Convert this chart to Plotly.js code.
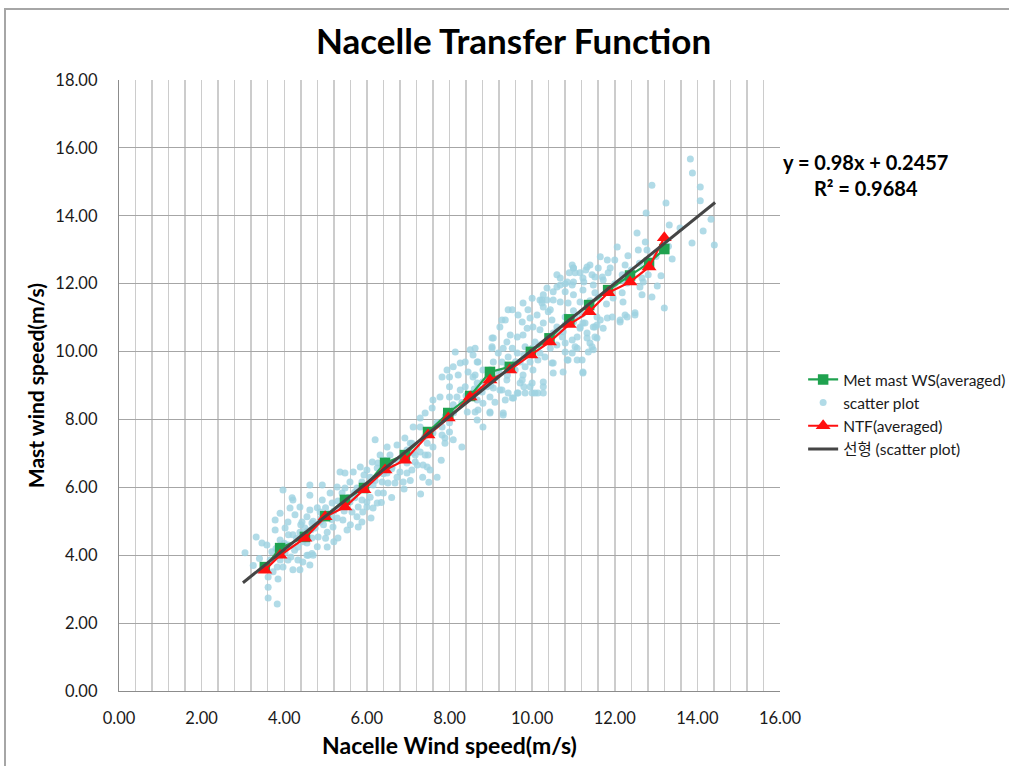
<!DOCTYPE html>
<html>
<head>
<meta charset="utf-8">
<script src="https://cdn.plot.ly/plotly-3.0.1.min.js"></script>
<style>
html,body{margin:0;padding:0;background:#fff;overflow:hidden;}
#chart{width:1009px;height:766px;position:absolute;left:0;top:0;}
#frame{position:absolute;left:4px;top:8px;width:1100px;height:900px;border-top:2px solid #a6a6a6;border-left:2px solid #a6a6a6;pointer-events:none;}
</style>
</head>
<body>
<div id="chart"></div>
<div id="frame"></div>
<script>
// ---- Averaged bins ----
var binX = [3.53,3.9,4.5,4.99,5.47,5.93,6.44,6.92,7.48,7.97,8.5,8.98,9.46,9.97,10.42,10.9,11.38,11.84,12.37,12.83,13.2];
var metMastY = [3.65,4.21,4.54,5.15,5.63,5.98,6.72,6.95,7.63,8.19,8.69,9.4,9.55,9.99,10.39,10.95,11.37,11.81,12.24,12.61,13.02];
var ntfY = [3.56,4.0,4.5,5.13,5.42,5.93,6.51,6.8,7.54,8.04,8.66,9.16,9.46,9.9,10.28,10.8,11.17,11.73,12.05,12.49,13.35];

// ---- Linear trend (scatter plot) ----
var trendX = [3.0,14.43];
var trendY = [3.19,14.39];

// ---- Scatter plot (nacelle WS, mast WS) ----
var scatterX = [
13.83,13.88,14.07,14.07,14.33,14.14,14.41,13.87,13.39,13.58,13.32,13.24,12.9,12.76,12.74,12.78,13.12,13.03,12.9,13.2,12.66,12.69,12.81,12.54,12.06,12.32,12.57,
11.65,11.82,12.0,11.4,11.0,11.16,10.9,10.68,10.36,10.24,10.44,10.6,10.8,11.23,11.52,11.7,11.89,12.25,12.37,12.66,12.49,12.25,12.13,11.82,11.57,11.48,11.23,11.0,10.75,11.09,11.4,
11.6,11.33,11.45,11.04,11.0,11.25,11.48,11.72,11.84,12.18,12.3,12.61,12.18,11.96,12.2,12.3,12.49,12.13,11.94,11.65,11.72,11.52,11.28,11.16,11.33,11.57,11.45,11.36,11.09,10.97,10.73,10.6,10.48,10.8,10.97,10.87,10.68,11.0,10.8,11.16,11.36,10.68,10.51,10.6,10.97,11.3,
10.51,10.24,10.27,10.39,10.12,9.95,10.27,10.02,10.19,9.88,9.76,9.78,9.64,9.47,9.39,9.52,9.3,9.06,9.03,9.18,9.64,9.83,10.07,10.51,10.6,10.8,10.44,10.19,10.14,9.95,9.83,9.71,10.02,10.31,10.48,10.87,11.09,11.23,10.8,
9.42,9.27,9.06,9.39,9.59,9.78,9.71,9.39,9.1,8.93,8.98,8.81,8.69,8.57,8.5,8.38,8.14,8.26,8.09,7.94,7.82,8.0,8.21,8.45,8.57,8.67,8.38,8.0,8.18,8.57,8.79,8.91,9.06,9.27,9.42,9.64,9.83,10.0,10.14,10.27,10.0,9.8,
9.52,9.35,9.1,8.81,8.67,8.43,8.62,8.98,9.3,8.67,8.81,8.3,7.89,8.0,7.82,8.09,11.23,9.27,9.22,9.35,9.66,9.52,9.9,9.78,10.19,10.0,10.27,10.36,10.97,11.23,11.52,10.85,11.0,9.03,9.03,8.62,9.42,
6.92,7.05,7.12,6.97,7.09,7.17,7.29,7.41,7.46,7.53,7.29,7.6,7.82,8.0,7.89,8.09,7.6,7.77,7.58,7.41,7.29,7.12,8.0,8.26,8.67,8.62,8.69,8.98,9.22,8.69,8.98,9.3,9.55,9.66,9.76,9.95,10.07,10.27,10.27,10.51,10.51,10.75,10.85,10.97,11.04,11.21,11.48,11.52,11.33,11.16,11.57,11.04,
3.05,3.32,3.46,3.66,3.61,3.61,3.61,3.83,3.49,3.73,3.83,3.9,3.97,4.09,4.21,4.38,4.62,4.58,4.7,4.33,4.16,4.02,3.9,3.78,4.02,3.78,3.9,4.14,4.09,4.26,4.21,3.97,4.38,4.43,4.55,4.62,4.62,4.67,4.75,4.87,4.87,4.92,4.92,5.11,5.16,5.11,5.18,5.04,4.82,5.04,4.67,4.38,4.55,4.21,4.55,4.33,4.55,4.67,4.09,
5.35,5.42,5.28,5.52,5.3,5.79,5.88,5.76,5.64,5.59,5.71,5.79,5.88,6.0,6.08,6.0,5.9,5.4,5.47,5.28,5.35,5.47,5.59,5.76,5.88,5.67,5.84,6.0,6.08,5.93,6.15,6.27,6.25,6.15,6.4,6.51,6.37,6.49,6.25,6.13,6.27,6.44,6.32,6.56,6.49,6.73,6.97,7.09,7.17,7.22,6.97,6.73,6.8,6.68,6.88,6.61,6.2,7.46,7.48,7.36,
4.19,4.62,3.58,3.7,3.4,3.25,3.85,4.45,4.8,5.0,5.2,5.6,6.1,6.35,6.6,6.9,7.3,7.5,7.7,7.8,7.05,7.35,
4.3,4.5,4.7,4.9,5.0,5.2,5.3,4.8,4.4,4.1,4.0,3.8,3.9,4.25,4.45,4.65,4.95,5.15,5.45,5.55,5.7,5.95,6.2,6.4,6.6,6.75,6.9,7.0,7.2,7.4,7.6,7.7,7.9,8.1,8.3,8.4,8.6,8.8,9.0,9.2,9.4,9.6,9.8,10.0,10.2,10.4,10.6,10.8,11.0,11.2,11.4,11.6,11.8,12.0,12.2,12.4,12.6,13.0,13.3
];
var scatterY = [
15.67,15.26,14.85,14.44,13.9,13.55,13.14,13.2,12.73,13.64,13.73,14.38,14.9,14.08,13.23,12.99,12.23,11.93,11.61,11.28,11.67,12.05,12.26,13.49,13.08,12.82,12.99,
12.79,12.7,12.7,12.55,12.46,12.32,12.32,12.17,11.52,11.43,11.23,11.9,12.0,12.17,12.2,12.2,12.46,12.55,12.32,12.17,11.14,11.08,10.87,10.99,11.02,10.72,10.84,10.87,10.58,10.43,10.25,
12.46,12.49,12.26,12.32,12.05,12.05,11.96,12.11,12.32,12.26,12.02,11.9,11.73,11.58,11.46,11.02,11.08,10.93,11.02,10.93,10.69,10.72,10.84,10.69,10.4,10.4,10.14,9.99,10.1,10.34,10.43,10.72,10.93,11.02,10.93,11.43,11.46,11.67,11.76,11.46,11.37,11.96,11.76,12.26,12.55,12.4,
11.52,11.52,11.31,11.17,11.08,10.99,10.84,10.72,10.64,10.69,10.87,10.49,10.43,10.49,10.28,10.1,10.1,10.4,10.14,9.96,9.96,10.14,10.28,10.55,10.19,10.25,10.1,9.96,9.75,9.69,9.55,9.69,9.46,9.84,9.66,9.75,9.75,9.37,9.99,
9.84,9.69,9.69,9.55,9.46,9.31,9.07,9.16,9.22,9.31,9.46,9.46,9.69,9.9,10.05,9.69,9.99,9.66,9.55,9.46,9.25,9.25,9.31,9.4,9.25,9.07,8.96,8.96,8.66,8.78,8.81,8.96,8.93,8.87,8.78,8.78,8.78,8.78,8.78,8.96,9.07,8.96,
8.63,8.57,8.51,8.48,8.57,8.22,8.22,8.22,8.19,7.98,7.78,7.19,7.45,7.9,7.78,8.43,9.4,10.93,10.72,10.93,11.08,11.23,11.23,11.43,11.52,11.57,11.67,11.87,11.96,11.81,11.73,12.05,12.46,10.4,10.1,10.1,11.23,
7.45,7.3,7.01,6.72,6.51,6.75,7.04,6.95,6.6,6.51,7.78,7.19,7.54,7.63,7.3,7.4,8.57,8.66,8.34,8.19,8.04,7.78,8.66,8.87,9.69,9.31,8.93,8.66,8.87,8.28,8.19,8.13,8.63,8.78,9.16,8.96,8.78,8.78,9.1,9.37,9.66,9.4,9.75,9.96,10.14,9.75,10.05,10.43,10.55,10.72,10.78,11.02,
4.07,4.54,4.36,3.86,3.36,3.06,2.74,2.56,3.65,3.51,3.65,3.86,3.65,3.86,3.57,3.57,3.71,4.0,4.0,3.86,3.95,4.07,4.45,4.74,4.8,5.04,5.24,5.39,4.98,5.19,5.63,5.92,5.42,4.98,5.13,5.33,5.77,4.95,4.8,4.98,5.27,5.63,6.07,5.83,5.54,5.24,4.83,4.68,4.54,4.24,4.51,4.68,4.7,4.6,4.36,4.24,4.0,4.05,4.3,
5.42,5.04,5.1,4.74,4.51,4.83,4.98,5.13,5.27,5.57,5.69,5.42,5.63,5.57,5.71,5.42,5.27,5.83,5.98,6.01,6.45,6.42,6.16,5.98,6.16,6.45,6.6,6.51,6.3,6.36,6.07,5.83,5.54,5.39,5.83,6.13,6.16,6.42,6.57,6.75,6.72,6.8,6.95,6.95,7.19,7.25,7.1,7.3,6.95,6.66,6.42,6.3,6.45,6.13,6.16,6.6,7.4,7.3,6.95,6.66,
5.69,6.07,4.3,4.1,3.9,3.7,3.3,3.8,4.25,4.5,4.4,4.9,5.1,5.55,5.7,5.95,5.8,6.15,6.3,6.8,6.2,6.3,
4.5,4.8,5.0,5.1,5.4,5.3,5.6,5.4,4.9,4.6,4.35,4.2,4.0,4.15,4.4,4.75,4.9,5.05,5.3,5.7,5.85,5.95,6.2,6.4,6.55,6.8,6.9,7.0,7.2,7.5,7.6,7.9,8.1,8.2,8.5,8.7,8.9,9.1,9.0,9.4,9.3,9.7,9.9,10.1,10.2,10.4,10.6,10.8,11.2,11.1,11.5,11.6,11.4,12.0,12.1,12.4,12.6,12.8,13.1
];

// ---- Text ----
var chartTitle = "Nacelle Transfer Function";
var xTitle = "Nacelle Wind speed(m/s)";
var yTitle = "Mast wind speed(m/s)";
var seriesNames = ["Met mast WS(averaged)", "scatter plot", "NTF(averaged)", "선형 (scatter plot)"];
var equationText = "y = 0.98x + 0.2457<br>R² = 0.9684";

var FONT = "Lato, 'Noto Sans', 'Noto Sans CJK KR', sans-serif";

var traces = [
  {
    type: 'scatter', mode: 'markers', name: seriesNames[1], legendrank: 2,
    x: scatterX, y: scatterY,
    marker: {color: 'rgba(158,210,225,0.8)', size: 7, line: {width: 0}},
    hoverinfo: 'x+y'
  },
  {
    type: 'scatter', mode: 'lines+markers', name: seriesNames[0], legendrank: 1,
    x: binX, y: metMastY,
    line: {color: '#1fa24f', width: 2.2},
    marker: {symbol: 'square', color: '#1fa24f', size: 10.5}
  },
  {
    type: 'scatter', mode: 'lines+markers', name: seriesNames[2], legendrank: 3,
    x: binX, y: ntfY,
    line: {color: '#ff1010', width: 2.2},
    marker: {symbol: 'triangle-up', color: '#ff1010', size: 13}
  },
  {
    type: 'scatter', mode: 'lines', name: seriesNames[3], legendrank: 4,
    x: trendX, y: trendY,
    line: {color: '#454545', width: 3}
  }
];

var layout = {
  width: 1009, height: 766,
  paper_bgcolor: '#ffffff', plot_bgcolor: '#ffffff',
  margin: {l: 119, r: 229, t: 80, b: 75, autoexpand: false},
  font: {family: FONT, color: '#1a1a1a', size: 15},
  title: {
    text: '<b>' + chartTitle + '</b>',
    font: {family: FONT, size: 35, color: '#000'},
    xref: 'container', yref: 'container', x: 0.509, y: 0.945,
    xanchor: 'center', yanchor: 'middle'
  },
  xaxis: {
    range: [0, 16], dtick: 2, tick0: 0, tickformat: '.2f',
    showgrid: true, gridcolor: '#cccccc', gridwidth: 1.5,
    minor: {dtick: 0.4, showgrid: true, gridcolor: '#cccccc', gridwidth: 1.5},
    showline: true, linecolor: '#8c8c8c', linewidth: 1.2,
    zeroline: false, ticks: '', ticklabelstandoff: 12,
    tickfont: {family: FONT, size: 16.5, color: '#1a1a1a'},
    title: {text: '<b>' + xTitle + '</b>', font: {family: FONT, size: 23, color: '#000'}, standoff: 10}
  },
  yaxis: {
    range: [0, 18], dtick: 2, tick0: 0, tickformat: '.2f',
    showgrid: true, gridcolor: '#a6a6a6', gridwidth: 1.2,
    showline: true, linecolor: '#8c8c8c', linewidth: 1.2,
    zeroline: false, ticks: '', ticklabelstandoff: 17,
    tickfont: {family: FONT, size: 16.5, color: '#1a1a1a'},
    title: {text: '<b>' + yTitle + '</b>', font: {family: FONT, size: 21, color: '#000'}, standoff: 5}
  },
  legend: {
    x: 1.035, y: 0.537, xanchor: 'left', yanchor: 'top',
    font: {family: FONT, size: 15.5, color: '#1a1a1a'},
    bgcolor: 'rgba(255,255,255,0)', borderwidth: 0,
    itemwidth: 30, tracegroupgap: 0, traceorder: 'normal'
  },
  annotations: [{
    text: '<b>' + equationText + '</b>',
    xref: 'paper', yref: 'paper', x: 1.1286, y: 0.845,
    xanchor: 'center', yanchor: 'middle', align: 'center', showarrow: false,
    font: {family: FONT, size: 20, color: '#000'}
  }],
  showlegend: true
};

Plotly.newPlot('chart', traces, layout, {displayModeBar: false, staticPlot: true});
</script>
</body>
</html>
